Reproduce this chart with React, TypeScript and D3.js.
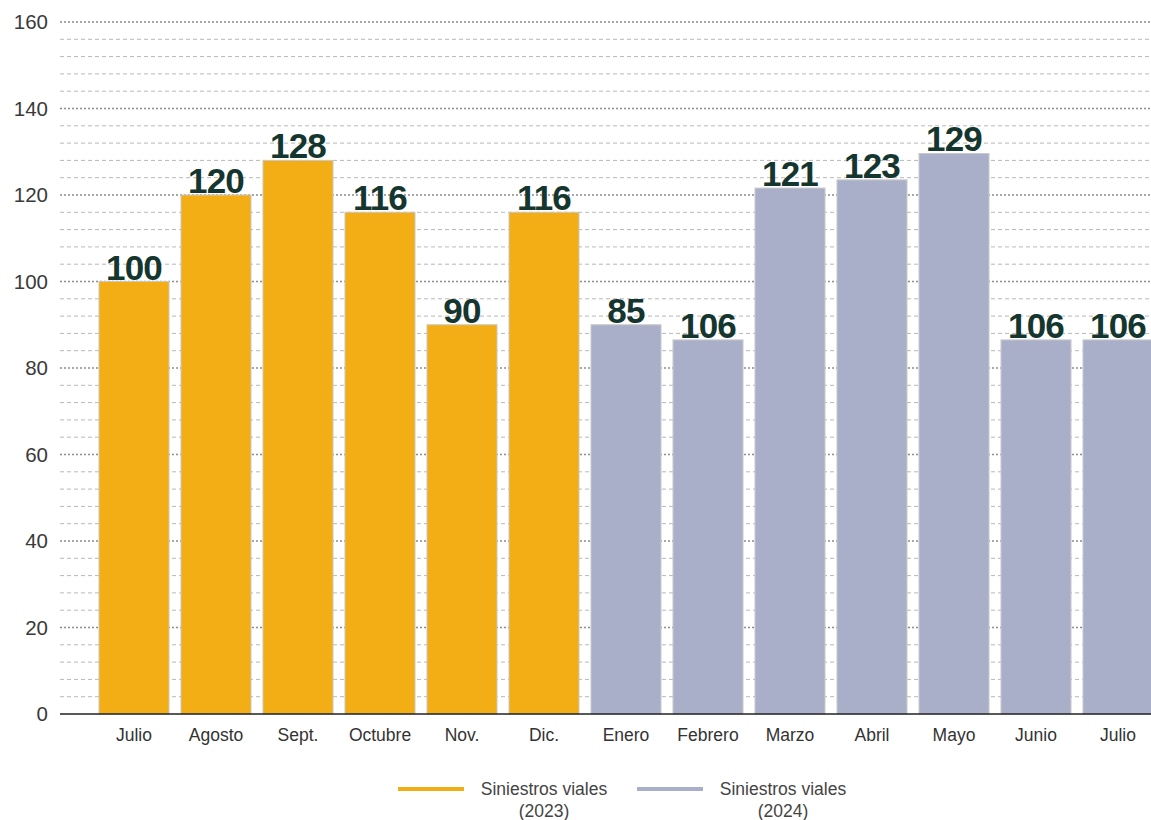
import React from "react";
import * as d3 from "d3";

const categories = ["Julio", "Agosto", "Sept.", "Octubre", "Nov.", "Dic.", "Enero", "Febrero", "Marzo", "Abril", "Mayo", "Junio", "Julio "];
const barValues = [100, 120, 128, 116, 90, 116, 90, 86.5, 121.6, 123.5, 129.6, 86.5, 86.5];
const barLabels = ["100", "120", "128", "116", "90", "116", "85", "106", "121", "123", "129", "106", "106"];
const barYear = [2023, 2023, 2023, 2023, 2023, 2023, 2024, 2024, 2024, 2024, 2024, 2024, 2024];
const yTicks = [0, 20, 40, 60, 80, 100, 120, 140, 160];
const legendItems = [
  { year: 2023, line1: "Siniestros viales", line2: "(2023)" },
  { year: 2024, line1: "Siniestros viales", line2: "(2024)" },
];

const W = 1151;
const H = 820;
const colors: Record<number, string> = { 2023: "#F2AE14", 2024: "#A9AFC8" };

export default function App() {
  const y = d3.scaleLinear().domain([0, 160]).range([714, 22]);
  const x = d3
    .scaleBand<string>()
    .domain(categories)
    .range([93, 1159])
    .paddingInner(0.146)
    .paddingOuter(0.073);
  const minor = d3.range(0, 161, 4).filter((v) => v % 20 !== 0);
  const font = "'Liberation Sans', Arial, Helvetica, sans-serif";
  const legendX = [398, 637];
  return (
    <svg
      width={W}
      height={H}
      style={{ position: "absolute", left: 0, top: 0, background: "#fff" }}
      fontFamily={font}
    >
      {minor.map((v) => (
        <line key={"m" + v} x1={60} x2={W} y1={y(v)} y2={y(v)} stroke="#b8b8b8" strokeWidth={1} strokeDasharray="4,3" />
      ))}
      {yTicks.filter((v) => v > 0).map((v) => (
        <line key={"M" + v} x1={60} x2={W} y1={y(v)} y2={y(v)} stroke="#8c8c8c" strokeWidth={1.6} strokeDasharray="2,2" />
      ))}
      {yTicks.map((v) => (
        <text key={"t" + v} x={48} y={y(v)} dy="0.36em" textAnchor="end" fontSize={20.5} fill="#3a3a3a">
          {v}
        </text>
      ))}
      {categories.map((c, i) => (
        <g key={"b" + i}>
          <rect
            x={x(c)}
            y={y(barValues[i])}
            width={x.bandwidth()}
            height={y(0) - y(barValues[i])}
            fill={colors[barYear[i]]}
            stroke="#c9c9c9"
            strokeWidth={1}
          />
          <text
            x={(x(c) as number) + x.bandwidth() / 2}
            y={y(barValues[i]) - 2}
            textAnchor="middle"
            fontSize={35}
            fontWeight="bold"
            fill="#15362f"
            letterSpacing={-0.8}
          >
            {barLabels[i]}
          </text>
          <text
            x={(x(c) as number) + x.bandwidth() / 2}
            y={741}
            textAnchor="middle"
            fontSize={17.5}
            fill="#333"
          >
            {c.trim()}
          </text>
        </g>
      ))}
      <line x1={60} x2={W} y1={y(0)} y2={y(0)} stroke="#222" strokeWidth={1.5} />
      {legendItems.map((l, i) => (
        <g key={"l" + i}>
          <line x1={legendX[i]} x2={legendX[i] + 66} y1={789} y2={789} stroke={colors[l.year]} strokeWidth={4} />
          <text x={legendX[i] + 146} y={795} textAnchor="middle" fontSize={17.5} fill="#444">
            {l.line1}
          </text>
          <text x={legendX[i] + 146} y={817} textAnchor="middle" fontSize={17.5} fill="#444">
            {l.line2}
          </text>
        </g>
      ))}
    </svg>
  );
}
